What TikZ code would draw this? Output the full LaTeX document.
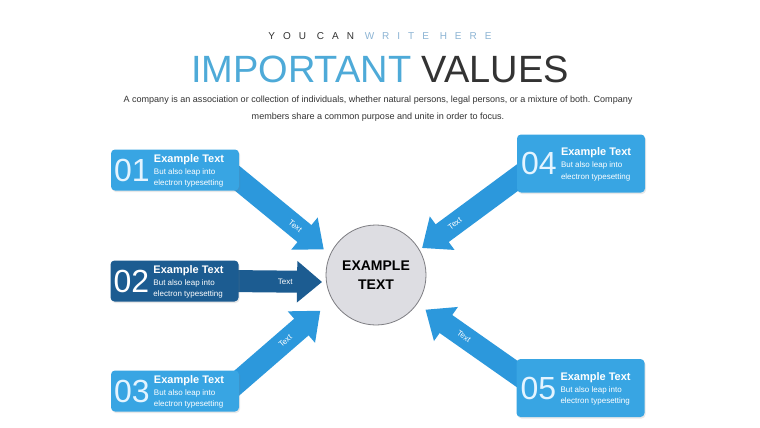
\documentclass[tikz,border=0pt]{standalone}
\usepackage{fontspec}
\setmainfont{Liberation Sans}
\usetikzlibrary{arrows.meta,calc,backgrounds,shadows}

\begin{document}
\begin{tikzpicture}[x=1pt,y=-1pt]

\definecolor{lightblue}{RGB}{56,165,227}
\definecolor{darkblue}{RGB}{28,92,145}
\definecolor{arrowblue}{RGB}{44,152,220}
\definecolor{titleblue}{RGB}{78,170,216}
\definecolor{kickerblue}{RGB}{140,180,212}
\definecolor{textgray}{RGB}{51,51,51}
\definecolor{hubgray}{RGB}{221,221,226}
\definecolor{hubedge}{RGB}{125,125,130}
\definecolor{numtint}{RGB}{228,244,255}

\useasboundingbox (0,0) rectangle (760,428);

\tikzset{
    valbox/.style={
        fill=#1, rounded corners=4pt, inner sep=0pt,
        minimum width=128pt, minimum height=41pt,
        drop shadow={opacity=0.18, shadow xshift=1pt, shadow yshift=-1.5pt}
    },
    numtext/.style={text=numtint, font=\fontsize{32}{32}\selectfont, inner sep=0pt},
    headtext/.style={text=white, font=\bfseries\fontsize{11}{12}\selectfont, inner sep=0pt},
    subtext/.style={text=white, font=\fontsize{8}{11.5}\selectfont, align=left, inner sep=0pt},
    bigarrow/.style={
        draw=#1, line width=22pt, -{Triangle[width=40pt,length=25pt]}
    },
    arrowlabel/.style={text=white, font=\fontsize{8}{9}\selectfont, sloped}
}

% Header
\node[font=\fontsize{10}{12}\selectfont\addfontfeature{LetterSpace=80}] (Kicker) at (380,36)
    {{\color{textgray}YOU CAN} {\color{kickerblue}WRITE HERE}};
\node[font=\fontsize{38}{40}\selectfont, anchor=base] (Title) at (380,82)
    {{\color{titleblue}IMPORTANT} {\color{textgray}VALUES}};
\node[font=\fontsize{9.05}{17}\selectfont, align=center, text=textgray] (Desc) at (378,109)
    {A company is an association or collection of individuals, whether natural persons, legal persons, or a mixture of both. Company\\
     members share a common purpose and unite in order to focus.};

% Central circle
\node[circle, fill=hubgray, draw=hubedge, line width=0.8pt, minimum size=100pt,
      font=\bfseries\fontsize{14}{19}\selectfont, align=center] (Hub) at (376,275) {EXAMPLE\\TEXT};

% Value cards
\node[valbox=lightblue] (V1) at (175,170) {};
\node[valbox=darkblue] (V2) at (174.5,281) {};
\node[valbox=lightblue] (V3) at (175,391) {};
\node[valbox=lightblue, minimum height=58pt] (V4) at (581,163.5) {};
\node[valbox=lightblue, minimum height=58pt] (V5) at (580.5,388) {};

\node[numtext, anchor=west] (N1) at ([xshift=3pt]V1.west) {01};
\node[headtext, anchor=base west] (H1) at ($(N1.north east)+(4,4)$) {Example Text};
\node[subtext, anchor=north west] (S1) at ($(H1.base west)+(0,6)$) {But also leap into\\electron typesetting};

\node[numtext, anchor=west, text=white] (N2) at ([xshift=3pt]V2.west) {02};
\node[headtext, anchor=base west] (H2) at ($(N2.north east)+(4,4)$) {Example Text};
\node[subtext, anchor=north west] (S2) at ($(H2.base west)+(0,6)$) {But also leap into\\electron typesetting};

\node[numtext, anchor=west] (N3) at ([xshift=3pt]V3.west) {03};
\node[headtext, anchor=base west] (H3) at ($(N3.north east)+(4,4)$) {Example Text};
\node[subtext, anchor=north west] (S3) at ($(H3.base west)+(0,6)$) {But also leap into\\electron typesetting};

\node[numtext, anchor=west] (N4) at ([xshift=4pt]V4.west) {04};
\node[headtext, anchor=base west] (H4) at ($(N4.north east)+(4,4)$) {Example Text};
\node[subtext, anchor=north west] (S4) at ($(H4.base west)+(0,6)$) {But also leap into\\electron typesetting};

\node[numtext, anchor=west] (N5) at ([xshift=4pt]V5.west) {05};
\node[headtext, anchor=base west] (H5) at ($(N5.north east)+(4,4)$) {Example Text};
\node[subtext, anchor=north west] (S5) at ($(H5.base west)+(0,6)$) {But also leap into\\electron typesetting};

% Arrows behind the cards (tails tucked under the cards)
\begin{scope}[on background layer]
\fill[white] (0,0) rectangle (760,428);
\draw[bigarrow=arrowblue, shorten >=8pt] ($([yshift=-10pt]V1.east)!-25pt!(Hub.156)$) -- (Hub.156)
    node[arrowlabel, pos=0.685] {Text};
\draw[bigarrow=darkblue, shorten >=4pt] ([xshift=-10pt]V2.east) -- (Hub.188)
    node[arrowlabel, pos=0.58] {Text};
\draw[bigarrow=arrowblue, shorten >=16pt] ($([yshift=10pt]V3.east)!-25pt!(Hub.210)$) -- (Hub.210)
    node[arrowlabel, pos=0.58] {Text};
\draw[bigarrow=arrowblue, shorten >=3pt] ($($(V4.west)!.5!(V4.south west)$)!-25pt!(Hub.30)$) -- (Hub.30)
    node[arrowlabel, pos=0.70] {Text};
\draw[bigarrow=arrowblue, shorten >=10pt] ($($(V5.west)!.5!(V5.north west)$)!-25pt!(Hub.325)$) -- (Hub.325)
    node[arrowlabel, pos=0.61] {Text};
\end{scope}

\end{tikzpicture}
\end{document}
